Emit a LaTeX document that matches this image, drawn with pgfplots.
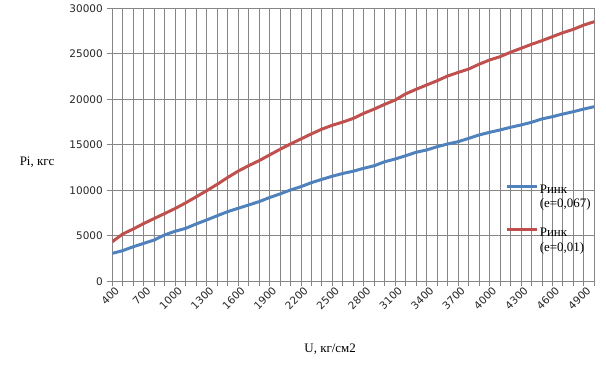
\documentclass[border=0pt]{standalone}
\usepackage{fontspec}
\setmainfont{Liberation Serif}
\newfontfamily\tickfont{DejaVu Sans}
\usepackage{pgfplots}
\pgfplotsset{compat=1.18}
\usepackage{pgfplotstable}
\definecolor{exblue}{HTML}{4F81BD}
\definecolor{exred}{HTML}{C0504D}
\definecolor{gridc}{HTML}{868686}
\pgfplotstableread{
x blue red
400 3070 4350
500 3370 5200
600 3800 5750
700 4170 6350
800 4540 6900
900 5100 7450
1000 5500 8000
1100 5820 8620
1200 6300 9280
1300 6740 9950
1400 7200 10650
1500 7650 11400
1600 8020 12100
1700 8380 12700
1800 8750 13250
1900 9200 13880
2000 9600 14500
2100 10030 15090
2200 10400 15640
2300 10840 16200
2400 11200 16720
2500 11550 17150
2600 11850 17500
2700 12100 17900
2800 12420 18460
2900 12700 18930
3000 13140 19450
3100 13440 19920
3200 13800 20600
3300 14180 21100
3400 14430 21570
3500 14790 22040
3600 15090 22560
3700 15340 22950
3800 15700 23320
3900 16080 23850
4000 16370 24320
4100 16630 24680
4200 16920 25170
4300 17180 25600
4400 17470 26040
4500 17840 26440
4600 18090 26880
4700 18380 27320
4800 18640 27690
4900 18930 28160
5000 19190 28530
}\datatable
\begin{document}
\begin{tikzpicture}
\path[use as bounding box] (-112.3bp,-109.7bp) rectangle (493.7bp,281.3bp);
\begin{axis}[
  name=ax,
  scale only axis,
  width=482bp, height=273bp,
  xmin=400, xmax=5000,
  ymin=0, ymax=30000,
  xtick={400,700,...,4900},
  minor xtick={400,500,...,5000},
  ytick={0,5000,...,30000},
  grid=both,
  major grid style={gridc, line width=0.8bp},
  minor grid style={gridc, line width=0.8bp},
  axis line style={gridc, line width=0.8bp},
  tick style={gridc, line width=0.8bp},
  major tick length=5bp,
  minor tick length=5bp,
  tick align=outside,
  tick pos=left,
  /pgf/number format/1000 sep={},
  /pgf/number format/assume math mode=true,
  ticklabel style={font=\tickfont\fontsize{10.5}{12}\selectfont, text=black!85},
  xticklabel style={rotate=45, anchor=north east, inner sep=1bp, xshift=3bp},
  yticklabel style={xshift=-1bp},
  scaled y ticks=false,
  xlabel={U, кг/см2},
  ylabel={Pi, кгс},
  label style={font=\fontsize{13}{15}\selectfont},
  xlabel style={at={(axis description cs:0.452,-0.248)}, anchor=center},
  ylabel style={at={(axis description cs:-0.156,0.437)}, anchor=center, rotate=-90},
  legend style={at={(axis description cs:0.815,0.1516)}, anchor=south west, draw=none, fill=none,
    font=\fontsize{13}{14.5}\selectfont, inner sep=0pt, row sep=30.7bp,
    nodes={inner sep=1.5bp}},
  legend cell align=left,
  legend image code/.code={\draw[#1, line width=3pt] (0bp,3.5bp) -- (30bp,3.5bp);},
]
\addplot[exblue, line width=3pt] table[x=x, y=blue] {\datatable};
\addlegendentry{\parbox[t]{60bp}{Ринк\\(e=0,067)}}
\addplot[exred, line width=3pt] table[x=x, y=red] {\datatable};
\addlegendentry{\parbox[t]{60bp}{Ринк\\(e=0,01)}}
\end{axis}
\end{tikzpicture}
\end{document}
